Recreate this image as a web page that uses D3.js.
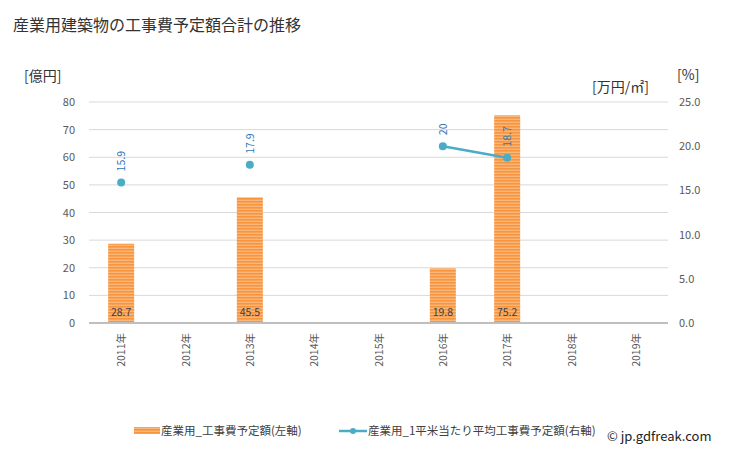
<!DOCTYPE html>
<html><head><meta charset="utf-8">
<script src="https://cdn.jsdelivr.net/npm/d3@7"></script>
<style>body{margin:0;background:#fff;font-family:"Noto Sans CJK JP","Noto Sans",sans-serif;}</style>
</head><body>
<svg id="c" width="729" height="450"></svg>
<script>
const categories = ["2011年","2012年","2013年","2014年","2015年","2016年","2017年","2018年","2019年"];
const costValues = [28.7, null, 45.5, null, null, 19.8, 75.2, null, null];
const unitValues = [15.9, null, 17.9, null, null, 20, 18.7, null, null];
const leftTicks = [0,10,20,30,40,50,60,70,80];
const rightTicks = [0,5,10,15,20,25];

const svg = d3.select("#c");
const font = '"Noto Sans CJK JP","Noto Sans",sans-serif';
const L = 89, R = 668, T = 102, B = 323;

const defs = svg.append("defs");
const pat = defs.append("pattern").attr("id","stripe").attr("patternUnits","userSpaceOnUse").attr("width",4).attr("height",3);
pat.append("rect").attr("width",4).attr("height",3).attr("fill","#fbb77a");
pat.append("rect").attr("width",4).attr("height",1.6).attr("fill","#f7953f");

const x = d3.scaleBand().domain(categories).range([L,R]);
const yL = d3.scaleLinear().domain([0,80]).range([B,T]);
const yR = d3.scaleLinear().domain([0,25]).range([B,T]);

svg.append("text").attr("x",13).attr("y",31).attr("font-family",font).attr("font-size",16).attr("fill","#333").text("産業用建築物の工事費予定額合計の推移");

// grid
svg.append("g").selectAll("line").data(leftTicks.filter(d=>d>0)).join("line")
  .attr("x1",L).attr("x2",R).attr("y1",d=>yL(d)).attr("y2",d=>yL(d)).attr("stroke","#d9d9d9").attr("stroke-width",1);

// left axis
const gL = svg.append("g").attr("transform",`translate(${L},0)`).call(d3.axisLeft(yL).tickValues(leftTicks).tickSize(0).tickPadding(14));
gL.select(".domain").remove();
gL.selectAll("text").attr("font-family",font).attr("font-size",11).attr("fill","#595959");

const gR = svg.append("g").attr("transform",`translate(${R},0)`).call(d3.axisRight(yR).tickValues(rightTicks).tickSize(0).tickPadding(11).tickFormat(d3.format(".1f")));
gR.select(".domain").remove();
gR.selectAll("text").attr("font-family",font).attr("font-size",11).attr("fill","#595959");

svg.append("text").attr("x",24).attr("y",81).attr("font-family",font).attr("font-size",14).attr("fill","#333").text("[億円]");
svg.append("text").attr("x",677).attr("y",80).attr("font-family",font).attr("font-size",14).attr("fill","#333").text("[%]");
svg.append("text").attr("x",592).attr("y",92).attr("font-family",font).attr("font-size",14).attr("fill","#333").text("[万円/㎡]");

// bars
const bw = 26;
const barData = categories.map((c,i)=>({c,v:costValues[i]})).filter(d=>d.v!=null);
svg.append("g").selectAll("rect").data(barData).join("rect")
  .attr("x",d=>x(d.c)+x.bandwidth()/2-bw/2).attr("width",bw)
  .attr("y",d=>yL(d.v)).attr("height",d=>yL(0)-yL(d.v)).attr("fill","url(#stripe)");
svg.append("g").selectAll("text").data(barData).join("text")
  .attr("x",d=>x(d.c)+x.bandwidth()/2).attr("y",yL(0)-7).attr("text-anchor","middle")
  .attr("font-family",font).attr("font-size",10.5).attr("fill","#404040").text(d=>d.v);

// baseline
svg.append("line").attr("x1",L).attr("x2",R).attr("y1",B).attr("y2",B).attr("stroke","#bfbfbf").attr("stroke-width",2);

// x labels
svg.append("g").selectAll("text").data(categories).join("text")
  .attr("transform",d=>`translate(${x(d)+x.bandwidth()/2+4},333) rotate(-90)`)
  .attr("text-anchor","end").attr("font-family",font).attr("font-size",10.5).attr("fill","#595959").text(d=>d);

// line
const lineData = categories.map((c,i)=>({c,v:unitValues[i]}));
const line = d3.line().defined(d=>d.v!=null).x(d=>x(d.c)+x.bandwidth()/2).y(d=>yR(d.v));
svg.append("path").datum(lineData).attr("d",line).attr("fill","none").attr("stroke","#4bacc6").attr("stroke-width",2.5);
const pts = lineData.filter(d=>d.v!=null);
svg.append("g").selectAll("circle").data(pts).join("circle")
  .attr("cx",d=>x(d.c)+x.bandwidth()/2).attr("cy",d=>yR(d.v)).attr("r",4).attr("fill","#4bacc6");
svg.append("g").selectAll("text").data(pts).join("text")
  .attr("transform",d=>`translate(${x(d.c)+x.bandwidth()/2+4},${yR(d.v)-11}) rotate(-90)`)
  .attr("font-family",font).attr("font-size",10.5).attr("fill","#2e75b6").text(d=>d.v);

// legend
const lg = svg.append("g");
lg.append("rect").attr("x",134).attr("y",427).attr("width",26).attr("height",7).attr("fill","url(#stripe)");
lg.append("text").attr("x",161).attr("y",435).attr("font-family",font).attr("font-size",11.5).attr("fill","#404040").text("産業用_工事費予定額(左軸)");
lg.append("line").attr("x1",339).attr("x2",367).attr("y1",431).attr("y2",431).attr("stroke","#4bacc6").attr("stroke-width",2.5);
lg.append("circle").attr("cx",353).attr("cy",431).attr("r",3).attr("fill","#4bacc6");
lg.append("text").attr("x",368).attr("y",435).attr("font-family",font).attr("font-size",11.5).attr("fill","#404040").text("産業用_1平米当たり平均工事費予定額(右軸)");
svg.append("text").attr("x",607).attr("y",441).attr("font-family",font).attr("font-size",13).attr("fill","#222").text("© jp.gdfreak.com");
</script>
</body></html>
